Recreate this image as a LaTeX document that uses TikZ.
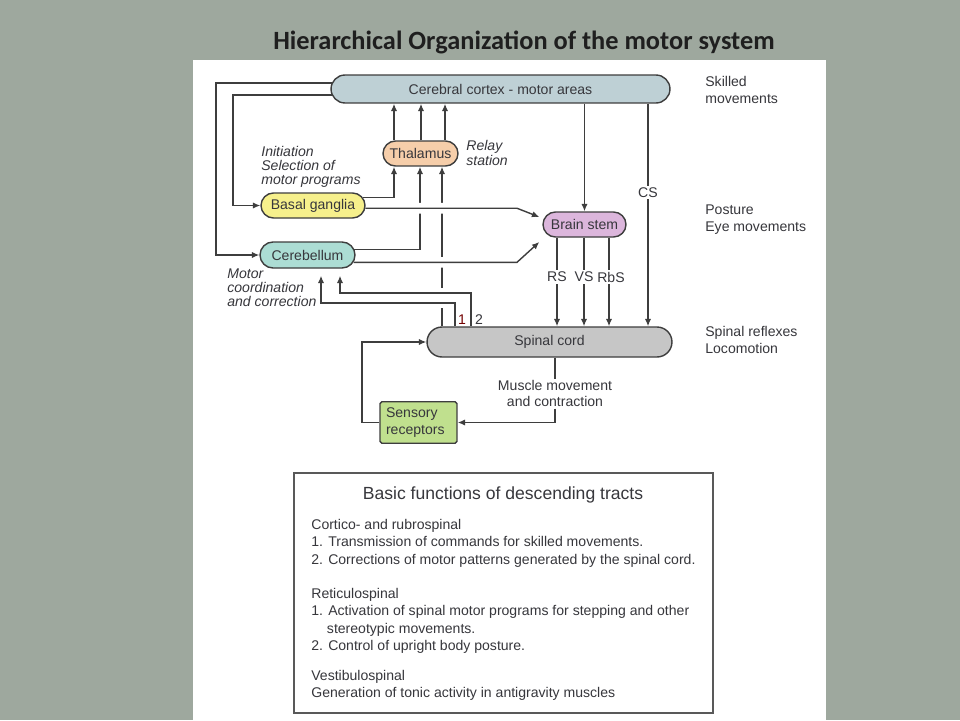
\documentclass[tikz,border=0pt]{standalone}
\usepackage{fontspec}
\setmainfont{Liberation Sans}
\newfontfamily\headfont{Carlito}
\usepackage{tikz}
\usetikzlibrary{arrows.meta,shapes.misc}

\definecolor{slide}{RGB}{158,168,158}
\definecolor{wirecol}{RGB}{62,62,62}
\definecolor{textcol}{RGB}{55,55,60}
\definecolor{cortexcol}{RGB}{190,208,213}
\definecolor{thalcol}{RGB}{246,206,170}
\definecolor{basalcol}{RGB}{246,240,140}
\definecolor{cerebcol}{RGB}{172,221,212}
\definecolor{stemcol}{RGB}{220,182,220}
\definecolor{cordcol}{RGB}{198,198,198}
\definecolor{sensecol}{RGB}{192,224,142}

\pgfdeclarelayer{paper}
\pgfdeclarelayer{wires}
\pgfsetlayers{paper,wires,main}

\newcommand{\boxfont}{\fontsize{8}{9.7}\selectfont}
\newcommand{\notefont}{\fontsize{8}{8}\selectfont\itshape}

\tikzset{
  wire/.style={draw=wirecol, line width=0.8pt},
  arr/.style={wire, -{Latex[length=4.2pt,width=3.6pt]}},
  halo/.style={preaction={draw=white, line width=6pt, -}},
  pill/.style={rounded rectangle, draw=wirecol, line width=0.8pt, inner sep=0pt, font=\boxfont, text=textcol},
  tag/.style={font=\boxfont, text=textcol, inner sep=1pt},
  note/.style={font=\notefont, text=textcol, align=left, anchor=west, inner sep=0pt},
  side/.style={font=\boxfont, text=textcol, align=left, anchor=west, inner sep=0pt},
  body/.style={font=\fontsize{8}{10}\selectfont, text=textcol, align=left, anchor=west, inner sep=0pt}
}

\begin{document}
\begin{tikzpicture}[x=0.02cm, y=-0.02cm]
\begin{pgfonlayer}{paper}
\fill[slide] (0,0) rectangle (960,720);
\fill[white] (193,60) rectangle (826,720);
\end{pgfonlayer}
\useasboundingbox (0,0) rectangle (960,720);

\node[font=\headfont\bfseries\fontsize{15}{18}\selectfont, text=black!88] (title) at (524,42) {Hierarchical Organization of the motor system};

% boxes
\node[pill, fill=cortexcol, minimum width=6.78cm, minimum height=0.56cm] (cortex) at (500.5,89) {Cerebral cortex - motor areas};
\node[pill, fill=thalcol, minimum width=1.5cm, minimum height=0.5cm] (thal) at (420.5,153.5) {Thalamus};
\node[pill, fill=basalcol, minimum width=2.08cm, minimum height=0.5cm] (basal) at (313,205.5) {Basal ganglia};
\node[pill, fill=cerebcol, minimum width=1.9cm, minimum height=0.52cm] (cereb) at (307.5,255) {Cerebellum};
\node[pill, fill=stemcol, minimum width=1.66cm, minimum height=0.5cm] (bs) at (584.5,224.5) {Brain stem};
\node[pill, fill=cordcol, minimum width=4.9cm, minimum height=0.6cm] (spinal) at (549.5,342) {Spinal cord};
\node[draw=wirecol, line width=0.8pt, rounded corners=1pt, fill=sensecol, font=\boxfont, text=textcol,
      text width=1.3cm, align=left, inner xsep=0.12cm, minimum height=0.82cm] (sens) at (418.5,422.5) {Sensory\\receptors};
\node[tag, fill=white, align=center, font=\fontsize{8}{8.8}\selectfont] (muscle) at (555,393.5) {Muscle movement\\and contraction};

% side notes
\node[side] (skilled) at (705,89.5) {Skilled\\movements};
\node[side] (posture) at (705,219.5) {Posture\\Eye movements};
\node[side] (reflex) at (705,339.5) {Spinal reflexes\\Locomotion};
\node[note] (relay) at (466,153) {Relay\\station};
\node[note] (init) at (261,167) {Initiation\\Selection of\\motor programs};
\node[note] (coord) at (227,288) {Motor\\coordination\\and correction};
\node[tag, text=red!45!black] (one) at (462,320) {1};
\node[tag] (two) at (479,320) {2};

% connectors
\begin{pgfonlayer}{wires}
\coordinate (colA) at (216,0);
\coordinate (colB) at (233,0);
\draw[arr] (cortex.178) -| (colA |- cereb.west) -- (cereb.west);
\draw[arr] (cortex.182) -| (colB |- basal.west) -- (basal.west);

\coordinate (colT1) at (394,0);
\coordinate (colT2) at (420,0);
\coordinate (colT3) at (442,0);
\draw[arr] (basal.9) -| (colT1 |- thal.south);
\draw[arr] (cereb.7) -| (colT2 |- thal.south);
\draw[arr] (colT3 |- spinal.north) -- (colT3 |- thal.south);

\foreach \x [count=\i] in {394,421,445}{
  \coordinate (relay\i) at (\x,0);
  \draw[arr] (relay\i |- thal.north) -- (relay\i |- cortex.south);
}

\coordinate (kink) at (517,0);
\coordinate (bsin1) at ([shift={(-3,-7.5)}]bs.west);
\coordinate (bsin2) at ([shift={(-3,17.5)}]bs.west);
\draw[arr, halo] (basal.-3) -- (kink |- basal.-3) -- (bsin1);
\draw[arr, halo] (cereb.-9) -- (kink |- cereb.-9) -- (bsin2);

\draw[arr] (cortex.south -| bs.north) -- (bs.north);
\coordinate (colCS) at (648,0);
\draw[arr] (colCS |- cortex.south) -- node[tag, fill=white, pos=0.4] (cs) {CS} (colCS |- spinal.north);

\foreach \x/\dx/\lab in {557/0/RS, 584/0/VS, 609/2/RbS}{
  \coordinate (tract) at (\x,0);
  \draw[arr] (tract |- bs.south) -- node[tag, fill=white, pos=0.444, xshift=\dx*0.02cm] {\lab} (tract |- spinal.north);
}

\coordinate (s1) at (455,0);
\coordinate (s2) at (471,0);
\coordinate (fb1) at (321,303);
\coordinate (fb2) at (340,293);
\draw[arr, halo, shorten >=0.14cm] (s1 |- spinal.north) |- (fb1) -- (fb1 |- cereb.south);
\draw[arr, halo, shorten >=0.14cm] (s2 |- spinal.north) |- (fb2) -- (fb2 |- cereb.south);

\draw[wire] (muscle.north |- spinal.south) -- (muscle.north);
\draw[arr] (muscle.south) |- (sens.east);
\coordinate (colS) at (362,0);
\draw[arr] (sens.west) -| (colS |- spinal.west) -- (spinal.west);
\end{pgfonlayer}

% descending tracts table
\node[draw=black!65, line width=1pt, minimum width=8.38cm, minimum height=4.8cm] (tracts) at (503.5,593) {};
\node[font=\fontsize{10}{12}\selectfont, text=textcol] (tractshead) at (503,495) {Basic functions of descending tracts};
\node[body] (cortico) at (311,543) {Cortico- and rubrospinal\\1. Transmission of commands for skilled movements.\\2. Corrections of motor patterns generated by the spinal cord.};
\node[body] (reticulo) at (311,621) {Reticulospinal\\1. Activation of spinal motor programs for stepping and other\\\hspace*{8.9pt}stereotypic movements.\\2. Control of upright body posture.};
\node[body] (vestibulo) at (311,685.5) {Vestibulospinal\\Generation of tonic activity in antigravity muscles};
\end{tikzpicture}
\end{document}
